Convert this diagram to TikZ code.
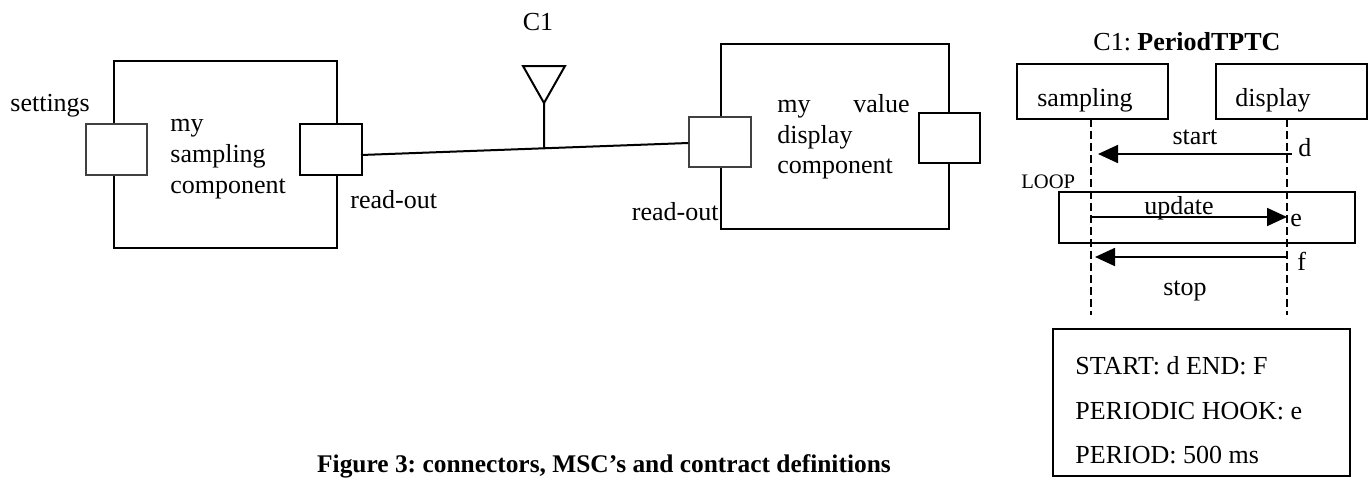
\documentclass[tikz,border=0pt]{standalone}
\usepackage{fontspec}
\setmainfont{Liberation Serif}
\usetikzlibrary{arrows.meta,calc}
\frenchspacing
\begin{document}
\begin{tikzpicture}[x=0.5pt,y=-0.5pt,
  comp/.style={draw, line width=1pt, inner sep=0, fill=white},
  portk/.style={draw, line width=1pt, inner sep=0, fill=white, minimum width=31pt, minimum height=25.5pt},
  portg/.style={draw=black!75, line width=0.6pt, inner sep=0, fill=white, minimum width=31pt, minimum height=25.5pt},
  msgbox/.style={draw, line width=0.75pt, inner sep=0, minimum width=75.5pt, minimum height=27.5pt},
  frame/.style={draw, line width=0.75pt},
  lifeline/.style={line width=0.7pt, dash pattern=on 4pt off 2pt},
  msg/.style={line width=0.9pt, -{Triangle[length=10pt,width=9pt]}},
  wire/.style={line width=1pt},
  lbl/.style={inner sep=0, font=\fontsize{13pt}{15pt}\selectfont},
  small/.style={inner sep=0, font=\fontsize{10.3pt}{12pt}\selectfont},
  captionstyle/.style={inner sep=0, font=\fontsize{12.7pt}{15pt}\selectfont\bfseries}
]
\useasboundingbox (0,0) rectangle (1372,477);

% ---------- sampling component ----------
\node[comp, minimum width=111.5pt, minimum height=93.5pt] (sc) at (225.5,154.5) {};
\node[portg, minimum width=30.5pt] (set) at (116.5,149.5) {};
\node[portk] (ro1) at (331,149.5) {};
\node[lbl, anchor=base west] (settingsl) at (10,111) {settings};
\node[lbl, anchor=base west] (sc1) at (170,131.5) {my};
\node[lbl, anchor=base west] (sc2) at (170,162.5) {sampling};
\node[lbl, anchor=base west] (sc3) at (170,193) {component};
\node[lbl, anchor=base west] (ro1l) at (350,208) {read-out};

% ---------- display component ----------
\node[comp, minimum width=114pt, minimum height=92.5pt] (dc) at (835,136.5) {};
\node[portg, minimum height=25pt] (ro2) at (720,142) {};
\node[portk, minimum width=30.5pt, minimum height=25pt] (val) at (949.5,138) {};
\node[lbl, anchor=base west] (dc1) at (777,112.5) {my};
\node[lbl, anchor=base east] (dc1b) at (910,112.5) {value};
\node[lbl, anchor=base west] (dc2) at (777,143) {display};
\node[lbl, anchor=base west] (dc3) at (777,173) {component};
\node[lbl, anchor=base east] (ro2l) at (719,220) {read-out};

% ---------- connector C1 ----------
\coordinate (wa) at ([yshift=-2.75pt]ro1.east);
\coordinate (wb) at ([yshift=-0.5pt]ro2.west);
\draw[wire] ([xshift=-1pt]wa) -- (wb);
\coordinate (j) at ($(wa)!0.557!(wb)$);
\coordinate (ant) at (544,103);
\draw[wire] (j) -- (ant);
\draw[line width=1pt, line join=miter] (ant) -- ++(-21,-37) -- ++(42,0) -- cycle;
\node[lbl, anchor=base] (c1) at (538,30) {C1};

% ---------- MSC ----------
\node[lbl, anchor=base west] (title) at (1093,50) {C1: \textbf{PeriodTPTC}};
\node[msgbox] (sb) at (1092.5,91.5) {};
\node[msgbox] (db) at (1291.5,91.5) {};
\node[lbl, anchor=base] (sbl) at (1085,106.5) {sampling};
\node[lbl, anchor=base] (dbl) at (1273,106.5) {display};

\coordinate (lsT) at (1091,119);
\coordinate (lsB) at (1091,315);
\coordinate (ldT) at (1287,119);
\coordinate (ldB) at (1287,315);
\draw[lifeline] (lsT) -- (lsB);
\draw[lifeline] (ldT) -- (ldB);

% start
\coordinate (d0) at (1292,154);
\coordinate (d1) at (1098,154);
\draw[msg] (d0) -- (d1);
\node[lbl, anchor=base] (startl) at (1195,144) {start};
\node[lbl, anchor=base west] (dl) at (1298,156.5) {d};

% loop
\node[small, anchor=base west] (loopl) at (1021,188) {LOOP};
\draw[frame] (1059,192) rectangle (1355,243);
\coordinate (e0) at (1091,217);
\coordinate (e1) at (1287,217);
\draw[msg] (e0) -- (e1);
\node[lbl, anchor=base] (updl) at (1179,214) {update};
\node[lbl, anchor=base west] (el) at (1290,226.5) {e};

% stop
\coordinate (f0) at (1287,257);
\coordinate (f1) at (1095,257);
\draw[msg] (f0) -- (f1);
\node[lbl, anchor=base west] (fl) at (1297,270.5) {f};
\node[lbl, anchor=base] (stopl) at (1185,295) {stop};

% contract box
\draw[frame] (1053,329) rectangle (1350,476);
\node[lbl, anchor=base west] (k1) at (1075,374) {START: d END: F};
\node[lbl, anchor=base west] (k2) at (1075,419) {PERIODIC HOOK: e};
\node[lbl, anchor=base west] (k3) at (1075,463) {PERIOD: 500 ms};

% caption
\node[captionstyle, anchor=base] (caption) at (604,472) {Figure 3: connectors, MSC’s and contract definitions};
\end{tikzpicture}
\end{document}
